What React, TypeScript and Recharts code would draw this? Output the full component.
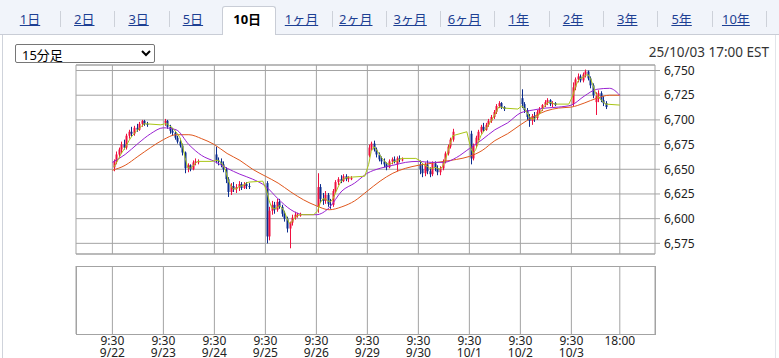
import React from "react"
import { ComposedChart, Bar, Line, XAxis, YAxis, CartesianGrid, ReferenceArea, ReferenceLine } from "recharts"

const tabLabels = ["1日", "2日", "3日", "5日", "10日", "1ヶ月", "2ヶ月", "3ヶ月", "6ヶ月", "1年", "2年", "3年", "5年", "10年"]
const activeTab = "10日"
const intervalLabel = "15分足"
const stampLabel = "25/10/03 17:00 EST"

const dayLabels = ["9/22", "9/23", "9/24", "9/25", "9/26", "9/29", "9/30", "10/1", "10/2", "10/3"]
const openLabel = "9:30"
const endLabel = "18:00"
const priceTicks = [6575, 6600, 6625, 6650, 6675, 6700, 6725, 6750]

// candles per day, [open, high, low, close]
const ohlc0922 = [
  [6652, 6660, 6648, 6658], [6658, 6668, 6655, 6665], [6665, 6672, 6662, 6670], [6670, 6678, 6666, 6675],
  [6675, 6680, 6670, 6672], [6672, 6686, 6670, 6684], [6684, 6690, 6681, 6688], [6688, 6693, 6683, 6686],
  [6686, 6694, 6684, 6692], [6692, 6696, 6688, 6690], [6690, 6698, 6689, 6696], [6696, 6700, 6693, 6699],
  [6699, 6700, 6694, 6696], [6696, 6698, 6693, 6695],
]
const ohlc0923 = [
  [6697, 6701, 6694, 6699], [6699, 6700, 6691, 6693], [6693, 6695, 6686, 6689], [6689, 6692, 6684, 6687],
  [6687, 6689, 6680, 6682], [6682, 6684, 6676, 6678], [6678, 6681, 6672, 6674], [6674, 6676, 6664, 6667],
  [6667, 6668, 6646, 6651], [6651, 6656, 6647, 6654], [6654, 6655, 6648, 6650], [6650, 6659, 6649, 6657],
  [6657, 6661, 6654, 6658], [6658, 6660, 6655, 6658],
]
const ohlc0924 = [
  [6665, 6673, 6656, 6659], [6659, 6662, 6654, 6658], [6658, 6661, 6652, 6655], [6655, 6658, 6647, 6650],
  [6650, 6652, 6636, 6640], [6640, 6642, 6622, 6627], [6627, 6636, 6624, 6633], [6633, 6637, 6627, 6630],
  [6630, 6635, 6626, 6632], [6632, 6638, 6628, 6635], [6635, 6637, 6629, 6631], [6631, 6637, 6630, 6635],
  [6635, 6637, 6630, 6633], [6633, 6636, 6630, 6632],
]
const ohlc0925 = [
  [6636, 6638, 6575, 6582], [6582, 6612, 6578, 6608], [6608, 6618, 6604, 6614], [6614, 6617, 6605, 6609],
  [6609, 6620, 6607, 6617], [6617, 6620, 6610, 6612], [6612, 6614, 6602, 6605], [6605, 6608, 6597, 6600],
  [6600, 6602, 6586, 6590], [6590, 6597, 6570, 6596], [6596, 6604, 6593, 6601], [6601, 6607, 6599, 6604],
  [6604, 6606, 6601, 6604], [6604, 6606, 6602, 6604],
]
const ohlc0926 = [
  [6612, 6646, 6606, 6632], [6632, 6635, 6616, 6620], [6620, 6626, 6614, 6618], [6618, 6628, 6615, 6624],
  [6624, 6626, 6612, 6615], [6615, 6620, 6610, 6614], [6614, 6630, 6612, 6628], [6628, 6639, 6626, 6637],
  [6637, 6642, 6634, 6640], [6640, 6644, 6636, 6638], [6638, 6645, 6637, 6643], [6643, 6645, 6638, 6640],
  [6640, 6643, 6637, 6641], [6641, 6643, 6639, 6641],
]
const ohlc0929 = [
  [6664, 6675, 6662, 6672], [6672, 6678, 6669, 6676], [6676, 6679, 6668, 6670], [6670, 6672, 6662, 6665],
  [6665, 6667, 6658, 6660], [6660, 6663, 6655, 6658], [6658, 6661, 6652, 6655], [6655, 6657, 6649, 6652],
  [6652, 6660, 6651, 6658], [6658, 6662, 6655, 6660], [6660, 6663, 6656, 6658], [6655, 6663, 6648, 6661],
  [6661, 6664, 6657, 6660], [6660, 6662, 6658, 6660],
]
const ohlc0930 = [
  [6655, 6659, 6645, 6650], [6650, 6656, 6642, 6646], [6646, 6657, 6643, 6655], [6655, 6659, 6645, 6648],
  [6648, 6652, 6642, 6645], [6645, 6658, 6643, 6656], [6656, 6658, 6648, 6651], [6651, 6654, 6644, 6647],
  [6647, 6653, 6644, 6651], [6651, 6660, 6649, 6658], [6658, 6668, 6656, 6666], [6666, 6675, 6664, 6673],
  [6673, 6682, 6671, 6680], [6680, 6691, 6678, 6688],
]
const ohlc1001 = [
  [6686, 6689, 6655, 6661], [6661, 6676, 6659, 6674], [6674, 6684, 6672, 6682], [6682, 6690, 6679, 6688],
  [6688, 6695, 6686, 6693], [6693, 6697, 6688, 6690], [6690, 6697, 6689, 6695], [6695, 6701, 6693, 6699],
  [6699, 6705, 6697, 6703], [6703, 6710, 6701, 6708], [6708, 6716, 6706, 6714], [6714, 6719, 6712, 6717],
  [6717, 6718, 6711, 6713], [6713, 6714, 6709, 6711],
]
const ohlc1002 = [
  [6722, 6731, 6712, 6716], [6716, 6718, 6707, 6710], [6710, 6712, 6700, 6703], [6703, 6706, 6693, 6699],
  [6699, 6706, 6695, 6704], [6704, 6708, 6698, 6702], [6702, 6710, 6700, 6708], [6708, 6713, 6706, 6711],
  [6711, 6716, 6709, 6715], [6715, 6720, 6713, 6718], [6718, 6722, 6715, 6720], [6720, 6721, 6714, 6716],
  [6716, 6719, 6713, 6717], [6717, 6718, 6714, 6715],
]
const ohlc1003 = [
  [6716, 6738, 6714, 6733], [6733, 6743, 6730, 6741], [6741, 6747, 6738, 6744], [6744, 6746, 6738, 6740],
  [6740, 6748, 6738, 6746], [6746, 6751, 6743, 6749], [6749, 6750, 6740, 6742], [6742, 6744, 6732, 6735],
  [6735, 6737, 6722, 6725], [6718, 6728, 6705, 6724], [6724, 6730, 6718, 6727], [6727, 6729, 6718, 6720],
  [6720, 6724, 6714, 6717], [6717, 6719, 6711, 6713],
]

// short average: one value per candle, then the value held until the next open
const short0922 = [6652, 6656, 6661, 6666, 6670, 6674, 6679, 6683, 6686, 6689, 6691, 6694, 6696, 6696, 6695]
const short0923 = [6696, 6696, 6694, 6692, 6689, 6686, 6682, 6674, 6662, 6652, 6651, 6653, 6656, 6658, 6658]
const short0924 = [6659, 6659, 6657, 6654, 6648, 6638, 6633, 6630, 6630, 6632, 6633, 6634, 6636, 6637, 6638]
const short0925 = [6628, 6618, 6611, 6610, 6611, 6613, 6611, 6607, 6600, 6595, 6597, 6601, 6603, 6604, 6604]
const short0926 = [6608, 6616, 6620, 6620, 6618, 6617, 6620, 6626, 6632, 6637, 6640, 6641, 6642, 6642, 6643]
const short0929 = [6655, 6668, 6673, 6670, 6666, 6662, 6659, 6656, 6655, 6656, 6658, 6658, 6660, 6661, 6661]
const short0930 = [6659, 6656, 6654, 6653, 6651, 6651, 6652, 6651, 6650, 6653, 6659, 6667, 6676, 6684, 6688]
const short1001 = [6672, 6666, 6670, 6677, 6684, 6688, 6691, 6695, 6699, 6703, 6708, 6713, 6713, 6712, 6711]
const short1002 = [6714, 6712, 6708, 6703, 6701, 6701, 6703, 6706, 6710, 6714, 6717, 6718, 6717, 6716, 6716]
const short1003 = [6724, 6733, 6739, 6742, 6743, 6745, 6746, 6742, 6735, 6727, 6723, 6721, 6718, 6716, 6715]

// mid and long averages, read every 5 slots through to 18:00
const midAvg = [
  6657, 6665, 6676, 6686, 6692, 6690, 6675, 6664, 6658, 6651, 6645, 6640, 6633, 6620, 6609, 6604, 6604, 6611,
  6628, 6636, 6646, 6651, 6654, 6657, 6658, 6657, 6657, 6662, 6671, 6680, 6690, 6697, 6707, 6710, 6712, 6713,
  6715, 6724, 6731, 6732, 6725,
]
const longAvg = [
  6649, 6654, 6663, 6672, 6680, 6685, 6685, 6681, 6675, 6666, 6659, 6650, 6643, 6636, 6627, 6619, 6613, 6609,
  6612, 6618, 6628, 6638, 6646, 6651, 6654, 6656, 6658, 6660, 6663, 6669, 6679, 6686, 6695, 6703, 6709, 6712,
  6713, 6717, 6722, 6725, 6725,
]

const dayCandles = [ohlc0922, ohlc0923, ohlc0924, ohlc0925, ohlc0926, ohlc0929, ohlc0930, ohlc1001, ohlc1002, ohlc1003]
const dayShort = [short0922, short0923, short0924, short0925, short0926, short0929, short0930, short1001, short1002, short1003]

const SLOTS = 20
const LAST = 199
const xDomain = [-14.27, 212.8]
const yDomain = [6564.2, 6755.6]
const xTicks = [...dayLabels.map((_, d) => d * SLOTS), LAST]

const rows = new Map<number, any>()
const row = (x: number) => {
  if (!rows.has(x)) rows.set(x, { x })
  return rows.get(x)
}
dayCandles.forEach((day, d) =>
  day.forEach(([o, h, l, c], k) => Object.assign(row(d * SLOTS + k + 0.5), { o, h, l, c, range: [l, h] }))
)
dayShort.forEach((vals, d) =>
  vals.forEach((v, k) => {
    row(k < vals.length - 1 ? d * SLOTS + k + 0.5 : d * SLOTS + SLOTS - 1).short = v
  })
)
midAvg.forEach((v, i) => (row(Math.min(i * 5, LAST)).mid = v))
longAvg.forEach((v, i) => (row(Math.min(i * 5, LAST)).long = v))
const table = [...rows.values()].sort((a, b) => a.x - b.x)

const UP = "#f0103f"
const DOWN = "#0b2c8e"
const GRID = "#a3a3a3"
const FONT = '"Noto Sans", "Noto Sans CJK JP", sans-serif'

const Candle = (props: any) => {
  const { x, y, width, height, payload } = props
  if (!payload || payload.o == null) return null
  const { o, h, l, c } = payload
  const top = Math.min(y, y + height)
  const span = Math.abs(height)
  const ppu = h > l ? span / (h - l) : 0
  const cx = Math.round(x + width / 2)
  const b1 = top + (h - Math.max(o, c)) * ppu
  const b2 = top + (h - Math.min(o, c)) * ppu
  const color = c >= o ? UP : DOWN
  return (
    <g>
      <rect x={cx} y={top} width={1} height={Math.max(1, span)} fill={color} />
      <rect x={cx - 0.5} y={b1} width={2} height={Math.max(1, b2 - b1)} fill={color} />
    </g>
  )
}

const DateTick = ({ x, y, payload }: any) => {
  const i = xTicks.indexOf(payload.value)
  const top = i < dayLabels.length ? openLabel : endLabel
  return (
    <text x={x} y={y} textAnchor="middle" fill="#222" fontSize={12} fontFamily={FONT}>
      <tspan x={x} dy={11}>{top}</tspan>
      <tspan x={x} dy={11.5}>{dayLabels[i] ?? ""}</tspan>
    </text>
  )
}

const App: React.FC = () => {
  return (
    <div
      style={{
        position: "absolute",
        left: 0,
        top: 0,
        width: 779,
        height: 358,
        overflow: "hidden",
        background: "#fff",
        fontFamily: FONT,
      }}
    >
      <div
        style={{
          position: "absolute",
          left: 0,
          top: 0,
          width: 779,
          height: 34,
          background: "#f1f4fa",
          borderBottom: "1px solid #c9cdd6",
        }}
      />
      <div
        style={{
          position: "absolute",
          left: 2,
          top: 35,
          width: 772,
          height: 330,
          borderLeft: "1px solid #cfd3db",
          borderRight: "1px solid #e2e5ea",
        }}
      />
      {tabLabels.map((t, i) => {
        const left = 6 + i * 54.3
        const active = t === activeTab
        return (
          <div key={t}>
            {active ? (
              <div
                style={{
                  position: "absolute",
                  left: left - 1,
                  top: 6,
                  width: 54,
                  height: 29,
                  background: "#fff",
                  border: "1px solid #c9cdd6",
                  borderBottom: "none",
                  borderRadius: "3px 3px 0 0",
                  boxSizing: "border-box",
                }}
              />
            ) : null}
            {!active && tabLabels[i + 1] !== activeTab ? (
              <div style={{ position: "absolute", left: left + 54, top: 11, width: 1, height: 16, background: "#cdd1d9" }} />
            ) : null}
            <div
              style={{
                position: "absolute",
                left: left - 3,
                top: 10,
                width: 54,
                textAlign: "center",
                fontSize: 13,
                lineHeight: "18px",
                color: active ? "#000" : "#1d3f93",
                fontWeight: active ? 700 : 400,
                textDecoration: active ? "none" : "underline",
              }}
            >
              {t}
            </div>
          </div>
        )
      })}
      <select
        defaultValue={intervalLabel}
        style={{
          position: "absolute",
          left: 15,
          top: 44,
          width: 140,
          height: 19,
          fontSize: 13,
          fontFamily: FONT,
          padding: "0 2px",
          border: "1px solid #767676",
          borderRadius: 2,
          background: "#fff",
        }}
      >
        <option>{intervalLabel}</option>
      </select>
      <div
        style={{
          position: "absolute",
          right: 10,
          top: 43,
          fontSize: 13.5,
          lineHeight: "18px",
          color: "#333",
        }}
      >
        {stampLabel}
      </div>

      <div style={{ position: "absolute", left: 0, top: 0 }}>
        <ComposedChart width={779} height={260} data={table} margin={{ top: 65, right: 64, bottom: 6, left: 76 }}>
          <CartesianGrid stroke={GRID} strokeWidth={1} vertical={false} />
          <XAxis
            dataKey="x"
            type="number"
            domain={xDomain}
            ticks={xTicks}
            allowDataOverflow
            height={0}
            tick={false}
            tickLine={false}
            axisLine={false}
          />
          <YAxis
            orientation="right"
            type="number"
            domain={yDomain}
            ticks={priceTicks}
            allowDataOverflow
            width={60}
            axisLine={false}
            tickSize={5}
            tickMargin={4}
            tickLine={{ stroke: GRID }}
            tick={{ fill: "#222", fontSize: 12, fontFamily: FONT }}
            tickFormatter={(v) => v.toLocaleString("en-US")}
          />
          {xTicks.map((t) => (
            <ReferenceLine key={t} x={t} stroke={GRID} strokeWidth={1} />
          ))}
          <ReferenceArea
            x1={xDomain[0]}
            x2={xDomain[1]}
            y1={yDomain[0]}
            y2={yDomain[1]}
            stroke={GRID}
            fill="none"
            fillOpacity={0}
          />
          <Bar dataKey="range" barSize={2} shape={<Candle />} isAnimationActive={false} />
          <Line
            dataKey="long"
            type="monotone"
            stroke="#e0571d"
            strokeWidth={1}
            dot={false}
            activeDot={false}
            connectNulls
            isAnimationActive={false}
          />
          <Line
            dataKey="mid"
            type="monotone"
            stroke="#9a22d2"
            strokeWidth={1}
            dot={false}
            activeDot={false}
            connectNulls
            isAnimationActive={false}
          />
          <Line
            dataKey="short"
            type="linear"
            stroke="#a9c516"
            strokeWidth={1}
            dot={false}
            activeDot={false}
            connectNulls
            isAnimationActive={false}
          />
        </ComposedChart>
      </div>

      <div
        style={{
          position: "absolute",
          left: 76,
          top: 266,
          width: 580,
          height: 69,
          boxSizing: "border-box",
          border: `1px solid ${GRID}`,
        }}
      />
      <div style={{ position: "absolute", left: 0, top: 260 }}>
        <ComposedChart width={779} height={98} data={table} margin={{ top: 6, right: 124, bottom: 0, left: 76 }}>
          <CartesianGrid stroke={GRID} horizontal={false} />
          <XAxis
            dataKey="x"
            type="number"
            domain={xDomain}
            ticks={xTicks}
            allowDataOverflow
            height={24}
            tickSize={0}
            tickMargin={0}
            axisLine={false}
            tickLine={false}
            interval={0}
            tick={<DateTick />}
          />
          <YAxis hide domain={[0, 1]} />
        </ComposedChart>
      </div>
    </div>
  )
}

export default App
